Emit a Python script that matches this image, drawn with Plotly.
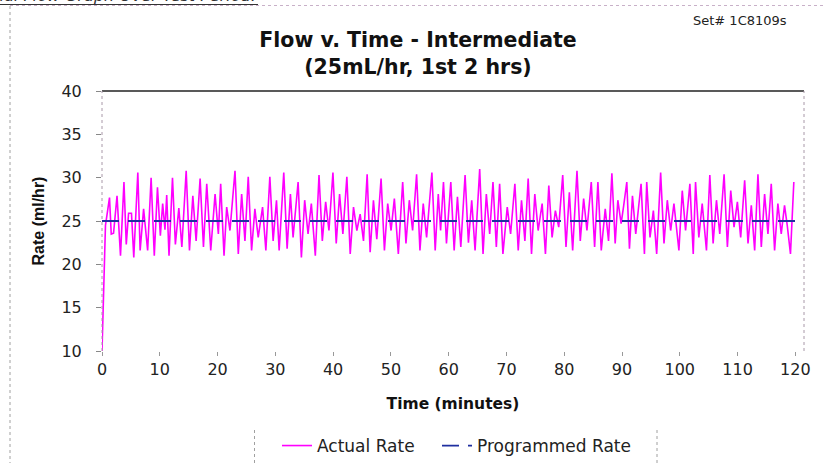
import plotly.graph_objects as go

# ---- data ----
time_min = [0, 0.6, 1.3, 1.6, 2.0, 2.6, 3.2, 3.8, 4.2, 4.6, 5.1, 5.5, 6.2, 6.6, 7.2, 7.9, 8.5, 9.05, 9.6,
            10.1, 10.5, 10.9, 11.2, 11.6, 12.2, 12.7, 13.3, 13.82, 14.57, 15.14, 15.72, 16.29, 16.98,
            17.56, 18.13, 18.82, 19.57, 20.14, 20.54, 21.12, 21.58, 22.15, 23.02, 23.59, 24.17, 24.74,
            25.31, 25.89, 26.46, 27.04, 27.79, 28.36, 29.05, 29.62, 30.2, 30.66, 31.46, 32.04, 32.61,
            33.07, 33.94, 34.51, 35.08, 35.66, 36.23, 36.92, 37.56, 38.13, 38.71, 39.28, 39.97, 40.54,
            41.12, 41.69, 42.38, 42.96, 43.53, 44.11, 44.68, 45.26, 45.89, 46.41, 46.98, 47.56, 48.3,
            48.88, 49.45, 50.03, 50.6, 51.29, 52.04, 52.61, 53.19, 53.76, 54.45, 55.03, 55.6, 56.18,
            57.1, 57.67, 58.2, 58.6, 59.1, 59.62, 60.37, 60.95, 61.52, 62.1, 62.84, 63.42, 63.99, 64.57,
            65.37, 65.95, 66.52, 67.1, 67.67, 68.25, 68.82, 69.39, 70.14, 70.72, 71.46, 72.04, 72.61,
            73.19, 73.76, 74.34, 74.91, 75.49, 76.18, 76.75, 77.33, 77.9, 78.47, 79.05, 79.74, 80.31,
            80.89, 81.46, 82.21, 82.78, 83.36, 83.93, 84.68, 85.26, 85.83, 86.41, 87.1, 87.67, 88.25,
            88.82, 89.28, 89.85, 90.3, 90.83, 91.29, 91.81, 92.38, 93.3, 93.88, 94.28, 94.85, 95.43,
            96.0, 96.69, 97.27, 97.84, 98.42, 98.99, 99.85, 100.43, 101.0, 101.75, 102.33, 102.73,
            103.3, 103.88, 104.62, 105.2, 105.77, 106.35, 106.92, 107.67, 108.24, 108.82, 109.39,
            109.97, 110.54, 111.23, 111.81, 112.38, 112.96, 113.53, 114.11, 114.68, 115.26, 115.83,
            116.41, 116.98, 117.56, 118.13, 118.6, 119.16, 119.74]

actual_rate = [10.0, 24.5, 27.7, 23.5, 23.6, 27.9, 21.0, 29.5, 22.3, 25.9, 25.9, 20.8, 30.6, 21.6, 26.4,
               21.6, 30.0, 21.0, 28.9, 23.3, 27.0, 24.0, 28.0, 21.0, 30.0, 22.3, 26.5, 22.0, 30.8, 21.6,
               27.9, 22.7, 29.9, 22.0, 29.3, 21.6, 28.1, 23.5, 29.3, 21.0, 26.6, 23.9, 30.8, 21.2, 28.1,
               22.7, 30.1, 21.6, 26.4, 23.1, 26.6, 21.6, 30.1, 22.7, 27.4, 21.6, 30.6, 21.8, 28.1, 23.1,
               29.5, 20.8, 27.4, 23.5, 27.0, 21.0, 30.3, 22.7, 27.2, 23.9, 30.6, 22.4, 28.1, 23.5, 30.1,
               21.2, 26.6, 23.9, 25.8, 22.7, 30.4, 21.4, 27.4, 22.9, 29.9, 21.6, 27.0, 23.9, 27.6, 21.2,
               29.5, 22.4, 27.4, 23.9, 30.4, 21.6, 27.0, 23.1, 30.6, 21.6, 28.1, 23.9, 29.5, 22.4, 29.5,
               21.6, 27.8, 22.0, 30.3, 22.5, 27.4, 21.6, 31.0, 21.2, 28.1, 23.5, 29.5, 22.0, 29.3, 21.2,
               26.6, 23.5, 29.3, 21.6, 27.4, 22.7, 29.9, 21.2, 28.1, 23.9, 27.0, 21.2, 29.1, 23.1, 26.2,
               24.3, 30.3, 22.0, 28.3, 21.6, 30.8, 22.7, 27.6, 23.9, 29.5, 22.0, 29.5, 21.6, 26.4, 22.7,
               30.5, 22.4, 27.4, 24.7, 26.8, 29.5, 21.8, 27.9, 23.5, 29.3, 21.2, 29.5, 23.1, 26.2, 21.2,
               30.6, 22.4, 27.4, 23.9, 27.0, 21.6, 28.5, 23.9, 29.3, 21.2, 29.5, 23.1, 27.0, 21.6, 30.3,
               22.4, 27.4, 23.5, 30.4, 22.0, 28.5, 24.3, 27.2, 23.1, 29.7, 22.4, 26.8, 21.6, 30.4, 22.0,
               28.1, 23.5, 29.3, 21.6, 27.0, 23.5, 26.8, 24.5, 21.2, 29.5]

prog_time = [0, 121.5]
prog_rate = [25, 25]

x_ticks = [0, 10, 20, 30, 40, 50, 60, 70, 80, 90, 100, 110, 120]
y_ticks = [10, 15, 20, 25, 30, 35, 40]

# ---- layout geometry (pixels) ----
W, H = 824, 463
ML, MR, MT, MB = 102, 20, 91, 112
PW, PH = W - ML - MR, H - MT - MB


def px(xp):
    return (xp - ML) / PW


def py(yp):
    return (H - MB - yp) / PH


FONT = "DejaVu Sans"

fig = go.Figure()
fig.add_trace(go.Scatter(x=time_min, y=actual_rate, mode="lines", name="Actual Rate",
                         line=dict(color="#FF00FF", width=1.6), cliponaxis=False, legend="legend"))
fig.add_trace(go.Scatter(x=prog_time, y=prog_rate, mode="lines", name="Programmed Rate",
                         line=dict(color="#1F2FA0", width=1.8, dash="17px,9px"), legend="legend2"))

frame_col = "#a898a8"
shapes = [
    dict(type="line", xref="paper", yref="paper", x0=0, x1=1, y0=1, y1=1,
         line=dict(color="#222222", width=1.5)),
    dict(type="line", xref="paper", yref="paper", x0=0, x1=0, y0=0, y1=1,
         line=dict(color=frame_col, width=1, dash="dot")),
    dict(type="line", xref="paper", yref="paper", x0=1, x1=1, y0=0, y1=1,
         line=dict(color=frame_col, width=1, dash="dot")),
    dict(type="line", xref="paper", yref="paper", x0=px(10), x1=px(10), y0=py(6), y1=py(470),
         line=dict(color="#a0a0a0", width=1, dash="dot")),
    dict(type="line", xref="paper", yref="paper", x0=px(10), x1=px(830), y0=py(5.5), y1=py(5.5),
         line=dict(color="#c8b0c8", width=1, dash="dot")),
    dict(type="line", xref="paper", yref="paper", x0=px(-5), x1=px(258), y0=py(4.5), y1=py(4.5),
         line=dict(color="#333333", width=1)),
    dict(type="line", xref="paper", yref="paper", x0=px(254.5), x1=px(254.5), y0=py(430), y1=py(470),
         line=dict(color="#a0a0a0", width=1, dash="dot")),
    dict(type="line", xref="paper", yref="paper", x0=px(657), x1=px(657), y0=py(430), y1=py(470),
         line=dict(color="#a0a0a0", width=1, dash="dot")),
]

annotations = [
    dict(text="Set# 1C8109s", xref="paper", yref="paper", x=px(740), y=py(20),
         xanchor="center", yanchor="middle", showarrow=False,
         font=dict(family=FONT, size=13, color="#222222")),
    dict(text="<i>Actual Flow Graph Over Test Period.</i>", xref="paper", yref="paper",
         x=px(258), y=py(7), xanchor="right", yanchor="bottom", showarrow=False,
         font=dict(family=FONT, size=16, color="#333333")),
]

legend_font = dict(family=FONT, size=17, color="#222222")

fig.update_layout(
    width=W, height=H, autosize=False,
    margin=dict(l=ML, r=MR, t=MT, b=MB, pad=0, autoexpand=False),
    paper_bgcolor="white", plot_bgcolor="white",
    title=dict(text="<b>Flow v. Time - Intermediate<br>(25mL/hr, 1st 2 hrs)</b>",
               font=dict(family=FONT, size=20.5, color="#111111"),
               x=418 / W, xref="container", xanchor="center",
               y=1 - 47 / H, yref="container", yanchor="middle"),
    xaxis=dict(range=[0, 121.5], tickvals=x_ticks, ticks="outside", ticklen=4, tickcolor="#999999",
               showline=False, showgrid=False, zeroline=False,
               tickfont=dict(family=FONT, size=16, color="#222222"),
               title=dict(text="<b>Time (minutes)</b>", font=dict(family=FONT, size=15.5, color="#111111"),
                          standoff=19)),
    yaxis=dict(range=[10, 40], tickvals=y_ticks, ticks="outside", ticklen=5, tickcolor="#888888",
               showline=False, showgrid=False, zeroline=False, ticklabelstandoff=11,
               tickfont=dict(family=FONT, size=16, color="#222222"),
               title=dict(text="<b>Rate (ml/hr)</b>", font=dict(family="Liberation Sans", size=16, color="#111111"),
                          standoff=12)),
    legend=dict(orientation="h", x=px(277), xanchor="left", y=py(446), yanchor="middle",
                font=legend_font, bgcolor="rgba(0,0,0,0)"),
    legend2=dict(orientation="h", x=px(437), xanchor="left", y=py(446), yanchor="middle",
                 font=legend_font, bgcolor="rgba(0,0,0,0)"),
    shapes=shapes,
    annotations=annotations,
    showlegend=True,
)

fig.write_html("out.html", config={"displayModeBar": False},
               post_script="document.body.style.margin='0px';")
